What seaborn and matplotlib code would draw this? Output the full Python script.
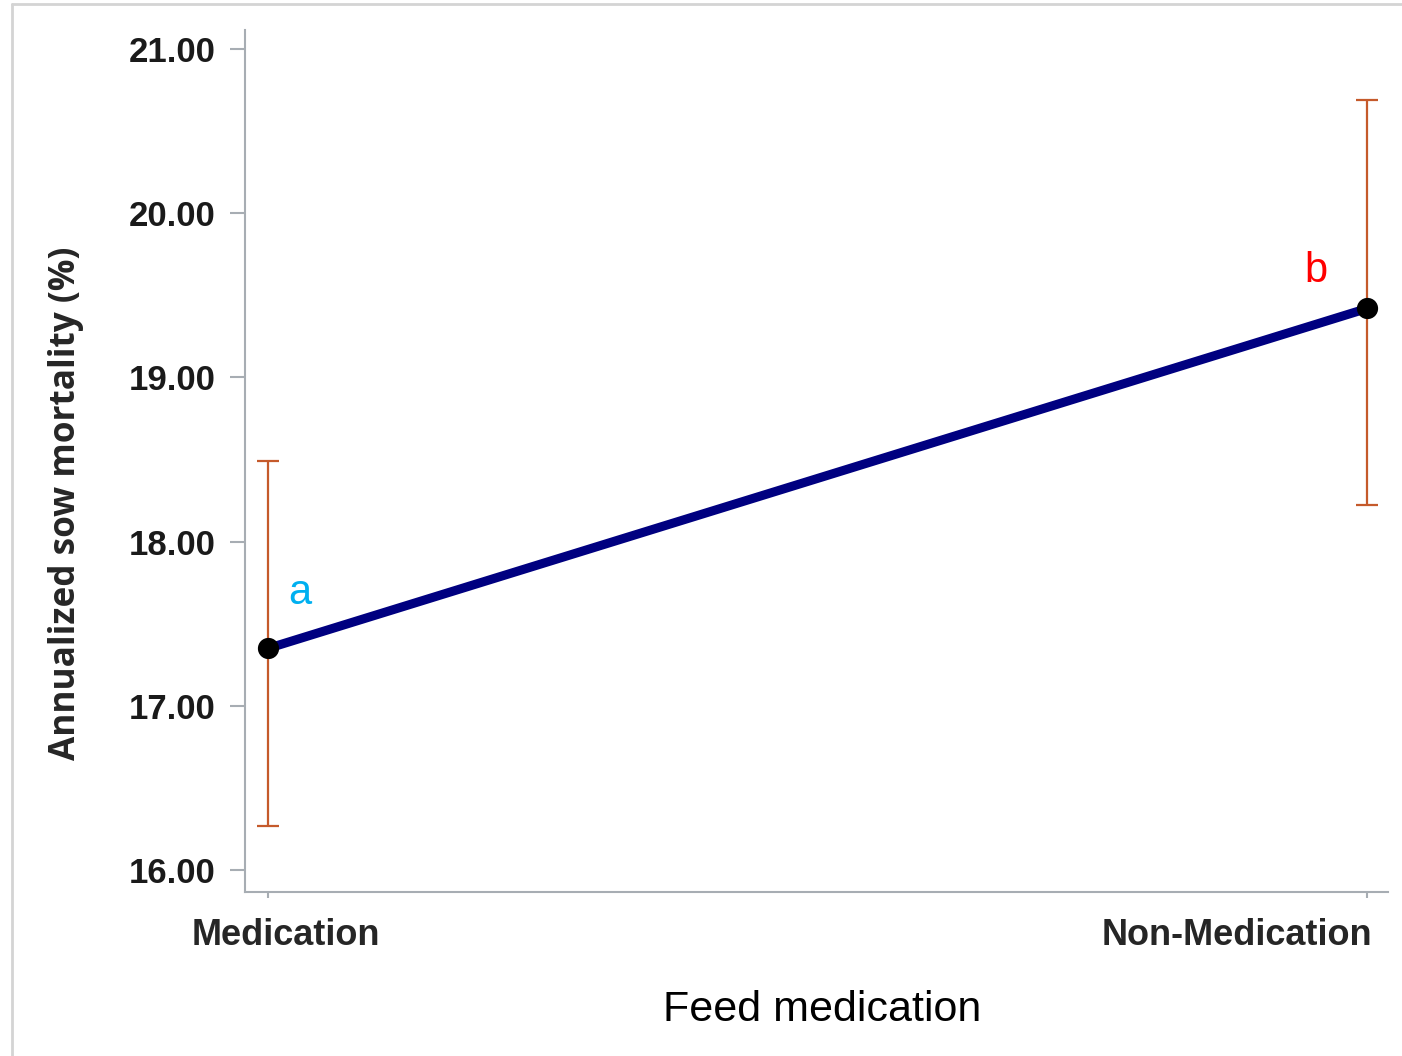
import matplotlib
matplotlib.use("Agg")
import matplotlib.pyplot as plt
from matplotlib.lines import Line2D
from matplotlib.transforms import ScaledTranslation
import numpy as np
import pandas as pd
import seaborn as sns

# Least-squares means of annualized sow mortality with 95% confidence limits
groups = ["Medication", "Non-Medication"]
means = [17.35, 19.42]
lower = [16.27, 18.22]
upper = [18.49, 20.69]
letters = ["a", "b"]
letter_colors = ["#00B0F0", "#FF0000"]

yticks = [16.0, 17.0, 18.0, 19.0, 20.0, 21.0]

df = pd.DataFrame({"group": groups, "mean": means, "lower": lower, "upper": upper})

sns.set_theme(style="ticks")
plt.rcParams["font.family"] = ["Liberation Sans", "DejaVu Sans"]

fig = plt.figure(figsize=(14.02, 10.56), dpi=100)
ax = fig.add_axes([0.1748, 0.1553, 0.8152, 0.8163])

pos = np.arange(len(groups))
err = np.vstack([df["mean"] - df["lower"], df["upper"] - df["mean"]])

# confidence interval whiskers
ax.errorbar(pos, df["mean"], yerr=err, fmt="none", ecolor="#C55A2B",
            elinewidth=1.6, capsize=8, capthick=1.6, zorder=1)

# mean trend line and point markers
sns.lineplot(data=df, x="group", y="mean", ax=ax, color="#000080",
             linewidth=6.5, sort=False, zorder=2)
sns.scatterplot(data=df, x="group", y="mean", ax=ax, color="black",
                s=200, edgecolor="black", zorder=3)

# significance letters
offsets = [(23, 40), (-37, 27)]
for i, (lt, col) in enumerate(zip(letters, letter_colors)):
    ax.annotate(lt, xy=(pos[i], means[i]), xytext=offsets[i],
                textcoords="offset points", ha="center", va="center",
                fontsize=30, color=col)

ax.set_xlim(-0.021, 1.019)
ax.set_ylim(15.866, 21.116)
ax.set_yticks(yticks)
ax.set_yticklabels([f"{v:.2f}" for v in yticks])
ax.set_xticks(pos)
ax.set_xticklabels(groups)

spine_col = "#A7ADB3"
for side in ["top", "right"]:
    ax.spines[side].set_visible(False)
for side in ["left", "bottom"]:
    ax.spines[side].set_color(spine_col)
    ax.spines[side].set_linewidth(1.5)

ax.tick_params(axis="y", length=11, width=1.5, color=spine_col, pad=10,
               labelsize=25, labelcolor="#1a1a1a")
ax.tick_params(axis="x", length=4, width=1.5, color=spine_col, pad=15,
               labelsize=26, labelcolor="#262626")
for t in ax.get_yticklabels() + ax.get_xticklabels():
    t.set_fontweight("bold")

# keep the category labels inside the plot width
xlabels = ax.get_xticklabels()
xlabels[0].set_transform(xlabels[0].get_transform()
                         + ScaledTranslation(13 / 72, 0, fig.dpi_scale_trans))
xlabels[-1].set_horizontalalignment("right")
xlabels[-1].set_transform(xlabels[-1].get_transform()
                          + ScaledTranslation(4 / 72, 0, fig.dpi_scale_trans))

ax.set_xlabel("Feed medication", fontsize=31, color="black")
ax.set_ylabel("Annualized sow mortality (%)", fontsize=25.3, fontweight="bold",
              color="#262626", family=["Open Sans", "DejaVu Sans"])
ax.xaxis.set_label_coords(0.505, -0.114)
ax.yaxis.set_label_coords(-0.141, 0.451)

# thin frame edges along the top and left of the figure
fig.add_artist(Line2D([12 / 1402, 12 / 1402], [0, 1 - 4 / 1056],
                      transform=fig.transFigure, color="#D4D4D4", linewidth=2))
fig.add_artist(Line2D([12 / 1402, 1], [1 - 4 / 1056, 1 - 4 / 1056],
                      transform=fig.transFigure, color="#D4D4D4", linewidth=2))

fig.savefig("out.png", dpi=100, facecolor="white")
